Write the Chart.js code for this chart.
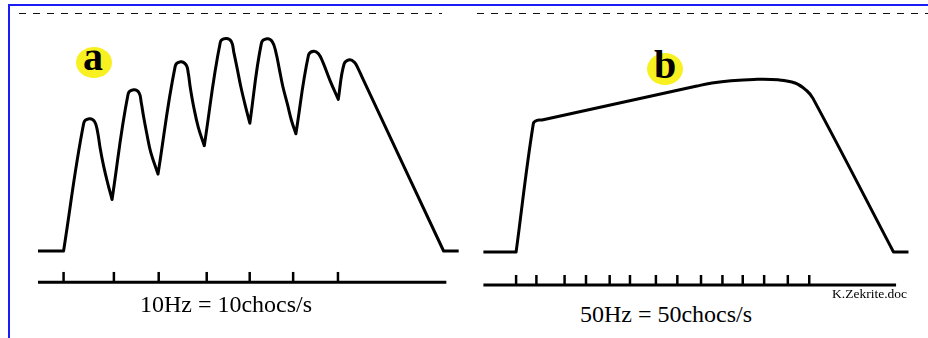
<!DOCTYPE html>
<html>
<head>
<meta charset="utf-8">
<script src="https://cdn.jsdelivr.net/npm/chart.js@4.4.1/dist/chart.umd.min.js"></script>
<style>
  html, body { margin: 0; padding: 0; background: #fff; }
  body { position: relative; width: 928px; height: 338px; overflow: hidden; font-family: 'Liberation Serif', 'DejaVu Serif', serif; }
  .frame { position: absolute; left: 8px; top: 4px; width: 1000px; height: 400px;
           border-top: 2px solid #1c1cf5; border-left: 2px solid #1c1cf5; }
  .dash { position: absolute; top: 13px; height: 1px;
          background-image: repeating-linear-gradient(to right, #111 0 7px, transparent 7px 14px); }
  canvas { position: absolute; }
  .cap { position: absolute; font-size: 24px; line-height: 24px; text-align: center; color: #000; white-space: nowrap; }
  .sig { position: absolute; font-size: 13.5px; line-height: 13px; color: #000; white-space: nowrap; }
  .badge { position: absolute; border-radius: 50%; background: #f8f020; }
  .letter { position: absolute; width: 40px; font-weight: bold; font-size: 40px; line-height: 40px; text-align: center; color: #000; }
</style>
</head>
<body>
<div class="frame"></div>
<div class="dash" style="left:19px; width:423px"></div>
<div class="dash" style="left:477px; width:460px"></div>

<div class="badge" style="left:76px; top:47px; width:36px; height:31px"></div>
<div class="letter" style="left:73px; top:37px">a</div>
<div class="badge" style="left:647px; top:53px; width:36px; height:32px"></div>
<div class="letter" style="left:645px; top:45px">b</div>

<canvas id="panelA" width="439" height="282" style="left:27px; top:16px"></canvas>
<canvas id="panelB" width="451" height="282" style="left:471px; top:17px"></canvas>

<div class="cap" style="left:126px; top:292px; width:200px">10Hz = 10chocs/s</div>
<div class="cap" style="left:566px; top:302px; width:200px">50Hz = 50chocs/s</div>
<div class="sig" style="right:21px; top:287px">K.Zekrite.doc</div>

<script>
// Muscle force (arbitrary %, rest = 0) against time (ms).
// A repeated sample keeps the spline from rounding a sharp corner
// (onset of a contraction, or the instant of the next stimulus).

// (a) 10 Hz stimulation: partially fused twitches
const timeA  = [-56, 0, 0,
                44, 56, 68, 74.5, 80, 87.6, 96.4, 106, 106,
                141, 153, 165, 169.7, 175.2, 181.8, 190.5, 206.5, 206.5,
                244, 256, 268, 272.7, 277, 284.7, 294.6, 307.7, 307.7,
                342.7, 354.8, 366.8, 372.3, 380, 387.6, 396.4, 407.3, 407.3,
                432.5, 444.6, 456.6, 464.3, 471.9, 479.6, 489.5, 498.2, 508, 508,
                535.5, 546.4, 557.4, 567.2, 582.5, 600.7, 600.7,
                613.2, 625.2, 636.2, 643.9, 654.8, 831, 831, 864];
const forceA = [0, 0, 0,
                59.8, 61.9, 60.5, 55.6, 48.1, 39.7, 31.8, 24.1, 24.1,
                73.4, 75.5, 74.1, 69.6, 62.6, 55.1, 46.3, 36, 36,
                86.4, 88.6, 87.1, 83.2, 76.6, 67.3, 57.9, 49.3, 49.3,
                97.7, 99.5, 98.1, 93, 85, 76.9, 68.9, 59.8, 59.8,
                97.2, 99.3, 97.9, 93, 85, 76.9, 68.7, 61.2, 54.9, 54.9,
                91.6, 93.5, 92.3, 88.3, 79.9, 71, 71,
                87.4, 89.5, 88.3, 85.5, 80.4, 0, 0, 0];
const stimuliA = [0, 110, 208, 313, 407, 502, 600];

// (b) 50 Hz stimulation: fused tetanus
const timeB  = [-29, 0, 0, 15.3, 18.5, 23, 160.4, 173.7, 190.6, 211,
                232.3, 247.4, 257.6, 263.3, 334.7, 334.7, 348];
const forceB = [0, 0, 0, 60.2, 61.6, 61.8, 77.7, 79.1, 80.2, 80.8,
                80.6, 79.1, 75.6, 71.9, 0, 0, 0];
const stimuliB = [0, 18, 43, 62, 83, 101, 124, 143, 164, 183, 201, 220, 241, 260];

const INK = '#000';

function drawPanel(id, time, force, stimuli, xMin, xMax, axisEnd, axisLevel, tickLevel) {
  const curve = time.map((t, i) => ({ x: t, y: force[i] }));
  const axis = [{ x: time[0], y: axisLevel }, { x: axisEnd, y: axisLevel }];
  const ticks = stimuli.map(t => ({ x: t, y: tickLevel }));

  return new Chart(document.getElementById(id), {
    type: 'line',
    data: {
      datasets: [
        { data: curve, borderColor: INK, borderWidth: 3, tension: 0.4,
          pointRadius: 0, fill: false, clip: false, borderJoinStyle: 'round' },
        { data: axis, borderColor: INK, borderWidth: 3, tension: 0,
          pointRadius: 0, fill: false, clip: false },
        { data: ticks, showLine: false, pointStyle: 'line', pointRotation: 90,
          pointRadius: 5, pointBorderWidth: 2.5, pointBorderColor: INK, clip: false }
      ]
    },
    options: {
      responsive: false,
      animation: false,
      events: [],
      layout: { padding: 0, autoPadding: false },
      plugins: { legend: { display: false }, tooltip: { enabled: false } },
      scales: {
        x: { type: 'linear', display: false, min: xMin, max: xMax },
        y: { type: 'linear', display: false, min: -22, max: 110 }
      }
    }
  });
}

drawPanel('panelA', timeA, forceA, stimuliA, -80, 880, 837, -14.6, -12.15);
drawPanel('panelB', timeB, forceB, stimuliB, -40, 360, 337, -15.5, -13.1);
</script>
</body>
</html>
